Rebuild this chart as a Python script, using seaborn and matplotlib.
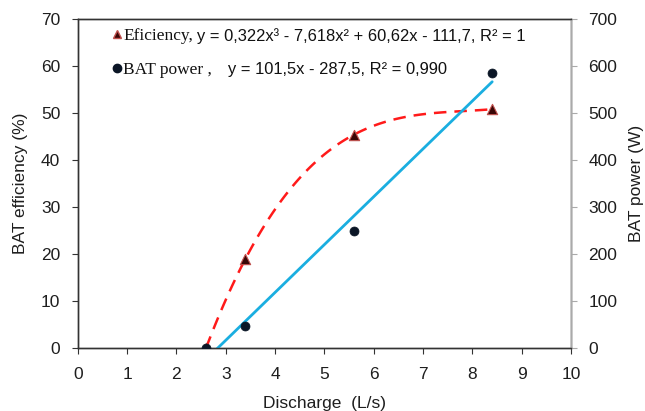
import numpy as np
import pandas as pd
import matplotlib
matplotlib.use("Agg")
import matplotlib.pyplot as plt
import seaborn as sns
from matplotlib.lines import Line2D

# data
discharge = [2.6, 3.4, 5.6, 8.4]
efficiency = [0.0, 19.0, 45.4, 50.8]
power = [0.0, 47.0, 250.0, 584.0]

eff_name = "Eficiency,"
eff_eq = "y = 0,322x³ - 7,618x² + 60,62x - 111,7, R² = 1"
pow_name = "BAT power ,"
pow_eq = "y = 101,5x - 287,5, R² = 0,990"

df = pd.DataFrame({"discharge": discharge, "efficiency": efficiency, "power": power})

sns.set_style("ticks")
plt.rcParams["font.family"] = ["Liberation Sans", "DejaVu Sans"]

fig = plt.figure(figsize=(6.45, 4.11), dpi=100)
ax = fig.add_axes([0.1205, 0.153, 0.765, 0.801])
ax2 = ax.twinx()

txt = "#1e1e1e"
fs = 12.5

# efficiency: cubic trend + points
sns.regplot(data=df, x="discharge", y="efficiency", order=3, ci=None, scatter=False,
            line_kws=dict(color="#ff1a1a", lw=1.8, ls=(0, (5, 3.2))), ax=ax)
sns.scatterplot(data=df, x="discharge", y="efficiency", marker="^", s=55,
                color="#3a0606", edgecolor="#c0504d", linewidth=0.8, ax=ax, zorder=4)

# power: linear trend + points
sns.regplot(data=df, x="discharge", y="power", order=1, ci=None, scatter=False,
            line_kws=dict(color="#1aaee0", lw=2.0), ax=ax2)
sns.scatterplot(data=df, x="discharge", y="power", marker="o", s=42,
                color="#0b1626", edgecolor="#0b1626", linewidth=0.5, ax=ax2, zorder=4)

ax.set_xlim(0, 10)
ax.set_ylim(0, 70)
ax2.set_ylim(0, 700)
ax.set_xticks(range(0, 11))
ax.set_yticks(range(0, 71, 10))
ax2.set_yticks(range(0, 701, 100))

ax.set_xlabel("Discharge  (L/s)", fontsize=fs, color=txt, labelpad=10)
ax.set_ylabel("BAT efficiency (%)", fontsize=fs, color=txt, labelpad=9)
ax2.set_ylabel("BAT power (W)", fontsize=fs, color=txt, labelpad=8)

for a in (ax, ax2):
    a.tick_params(labelsize=fs, labelcolor=txt, length=4.5, width=0.8, direction="out")
    for s in a.spines.values():
        s.set_visible(True)
ax.tick_params(axis="y", colors="#333333", labelcolor=txt, pad=8)
ax.tick_params(axis="x", colors="#333333", labelcolor=txt, pad=9)
ax2.tick_params(axis="y", colors="#aaaaaa", labelcolor=txt, pad=8)
for a in (ax, ax2):
    for side in ("left", "bottom", "top"):
        a.spines[side].set_color("#333333")
    for s in a.spines.values():
        s.set_linewidth(1.0)
ax2.spines["right"].set_color("#aaaaaa")

# legend without frame, equations placed after the names
handles = [
    Line2D([], [], ls="none", marker="^", ms=6, color="#3a0606", mec="#c0504d"),
    Line2D([], [], ls="none", marker="o", ms=6, color="#0b1626"),
]
leg = ax2.legend(handles, [eff_name, pow_name], loc="upper left", bbox_to_anchor=(0.038, 1.02),
                 frameon=False, handlelength=0.6, handletextpad=0.05, labelspacing=1.0,
                 prop={"family": "Liberation Serif", "size": 12.5})
fig.canvas.draw()
inv = ax2.transAxes.inverted()
for t, eq, gap in zip(leg.get_texts(), [eff_eq, pow_eq], [4, 16]):
    t.set_color("#111111")
    bb = t.get_window_extent()
    x0, y0 = inv.transform((bb.x1 + gap, (bb.y0 + bb.y1) / 2))
    ax2.text(x0, y0, eq, transform=ax2.transAxes, fontsize=11.9, color="#111111",
             va="center", ha="left")

fig.savefig("out.png", dpi=100)
